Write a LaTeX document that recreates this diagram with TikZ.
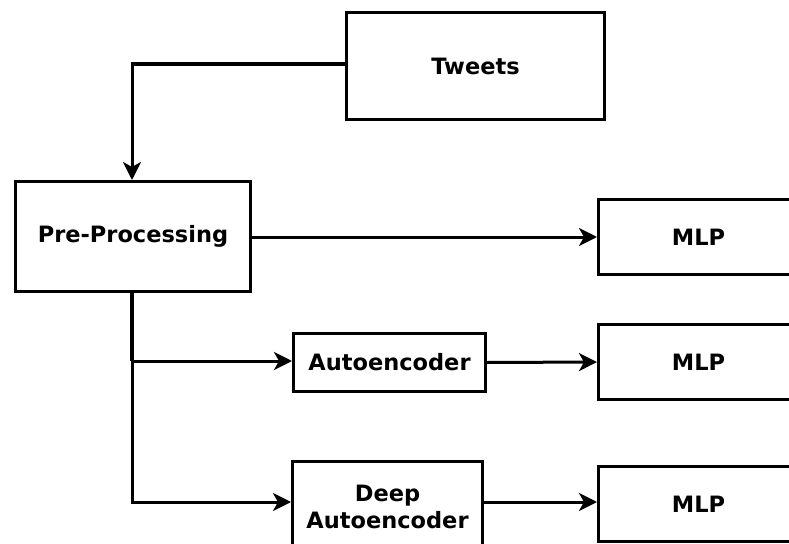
\documentclass[tikz,border=0pt]{standalone}
\usepackage{fontspec}
\setmainfont{DejaVu Sans}
\usetikzlibrary{arrows.meta}
\begin{document}
\begin{tikzpicture}[x=1pt,y=-1pt,
  blk/.style={draw,line width=3pt,inner sep=0pt,font=\bfseries\fontsize{22.5}{27}\selectfont,align=center},
  arr/.style={line width=3pt,-{Stealth[length=18pt,width=18pt,inset=5pt]}}]
\useasboundingbox (0,0) rectangle (789,543);
% boxes, placed by their corners
\node[blk,minimum width=258pt,minimum height=107pt,anchor=north west] (tw) at (345,11) {Tweets};
\node[blk,minimum width=235pt,minimum height=110pt,anchor=north west] (pp) at (14,180) {Pre-Processing};
\node[blk,minimum width=200pt,minimum height=75pt,anchor=north west] (m1) at (597,198) {MLP};
\node[blk,minimum width=192pt,minimum height=58pt,anchor=north west] (ae) at (292,332) {Autoencoder};
\node[blk,minimum width=200pt,minimum height=75pt,anchor=north west] (m2) at (597,323) {MLP};
\node[blk,minimum width=190pt,minimum height=90pt,anchor=north west] (da) at (291,460) {Deep\\Autoencoder};
\node[blk,minimum width=200pt,minimum height=75pt,anchor=north west] (m3) at (597,465) {MLP};
% connectors
\coordinate (t1) at (132,64);
\coordinate (b1) at (132,361);
\coordinate (b2) at (132,502);
\draw[arr] (tw.west |- t1) -- (t1) -- (pp.north -| t1);
\draw[arr] (pp.east |- m1.west) -- (m1.west);
\draw[line width=4.5pt] (pp.south -| b1) -- (b1);
\draw[arr] (b1) -- (ae.west |- b1);
\draw[arr] (b1) -- (b2) -- (da.west |- b2);
\draw[arr] (ae.east) -- (m2.west);
\draw[arr] (da.east |- b2) -- (m3.west |- b2);
\end{tikzpicture}
\end{document}
